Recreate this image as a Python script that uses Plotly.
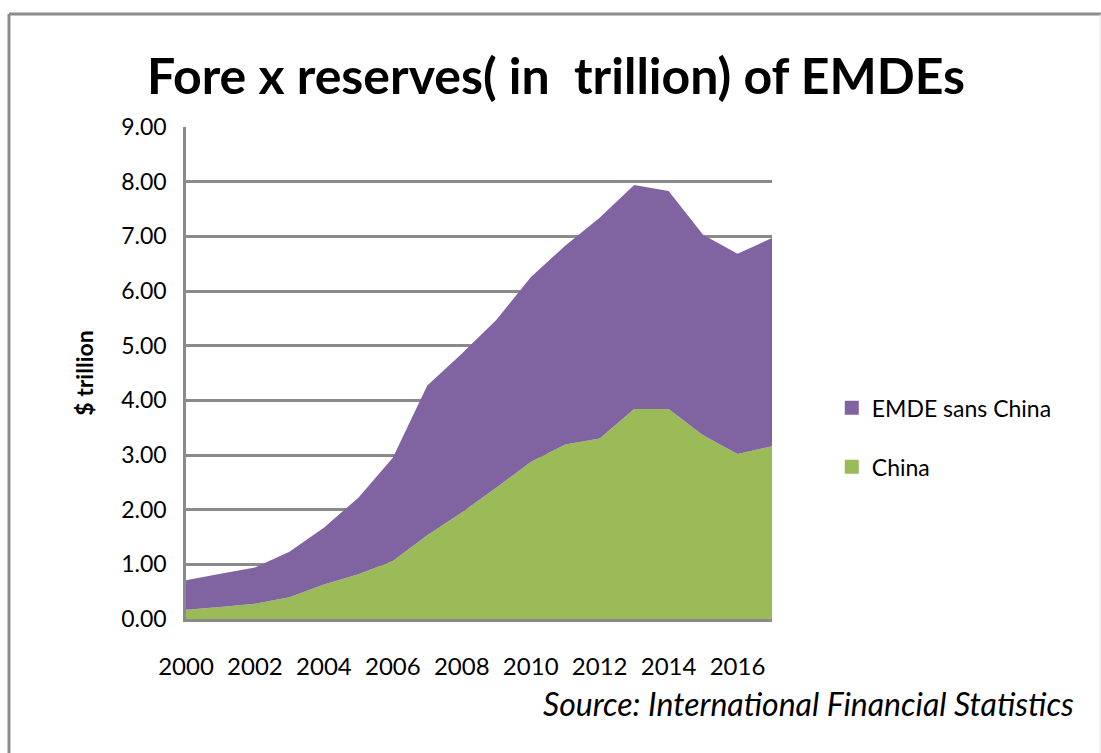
import plotly.graph_objects as go

# Foreign exchange reserves, $ trillion
years = list(range(2000, 2018))
china = [0.17, 0.22, 0.28, 0.40, 0.63, 0.82, 1.06, 1.53, 1.95, 2.40, 2.87,
         3.19, 3.30, 3.84, 3.84, 3.36, 3.02, 3.16]
emde_total = [0.71, 0.83, 0.94, 1.23, 1.67, 2.22, 2.95, 4.27, 4.85, 5.47, 6.25,
              6.83, 7.34, 7.94, 7.83, 7.03, 6.68, 6.97]
emde_sans_china = [round(t - c, 2) for t, c in zip(emde_total, china)]

x_ticks = list(range(2000, 2017, 2))
y_ticks = list(range(0, 10))

PURPLE = "#8064A2"
GREEN = "#9BBB59"
GRID = "#8a8a8a"
FONT = "Lato"

fig = go.Figure()

# stacked areas (China at the bottom)
fig.add_trace(go.Scatter(x=years, y=china, stackgroup="one", mode="none",
                         fillcolor=GREEN, name="China", showlegend=False,
                         line=dict(width=0)))
fig.add_trace(go.Scatter(x=years, y=emde_sans_china, stackgroup="one", mode="none",
                         fillcolor=PURPLE, name="EMDE sans China", showlegend=False,
                         line=dict(width=0)))

# square legend markers
fig.add_trace(go.Scatter(x=[None], y=[None], mode="markers", name="EMDE sans China",
                         marker=dict(symbol="square", size=14, color=PURPLE),
                         legendgroup="a"))
fig.add_trace(go.Scatter(x=[None], y=[None], mode="markers", name="China",
                         marker=dict(symbol="square", size=14, color=GREEN),
                         legendgroup="b"))

# frame: top and left edges of the chart box, faint right edge
frame_left = (9 - 186) / 586
frame_right = (1100 - 186) / 586
frame_top = (619 - 14) / 492
frame_bottom = (619 - 753) / 492
frame = dict(color="#8c8c8c", width=3)

fig.update_layout(
    width=1101, height=753, autosize=False,
    margin=dict(l=186, r=329, t=127, b=134),
    paper_bgcolor="white", plot_bgcolor="white",
    font=dict(family=FONT, color="black"),
    title=dict(text="<b>Fore x reserves( in  trillion) of EMDEs</b>",
               font=dict(family=FONT, size=50, color="black"),
               x=556 / 1101, xanchor="center", xref="container",
               y=1 - 76 / 753, yanchor="middle", yref="container"),
    legend=dict(x=1.102, y=0.473, xanchor="left", yanchor="top",
                font=dict(family=FONT, size=23, color="black"),
                traceorder="grouped", tracegroupgap=26,
                bgcolor="rgba(0,0,0,0)"),
    xaxis=dict(range=[2000, 2017], tickvals=x_ticks,
               ticktext=[str(v) for v in x_ticks],
               showgrid=False, showline=True, linecolor=GRID, linewidth=2.5,
               ticks="", ticklabelstandoff=24, zeroline=False,
               tickfont=dict(family=FONT, size=24, color="black")),
    yaxis=dict(range=[0, 9], tickvals=y_ticks, tickformat=".2f",
               showgrid=True, gridcolor=GRID, gridwidth=2.5,
               showline=True, linecolor=GRID, linewidth=2.5,
               ticks="", ticklabelstandoff=12, zeroline=False,
               tickfont=dict(family=FONT, size=23, color="black"),
               title=dict(text="<b>$ trillion</b>", standoff=22,
                          font=dict(family=FONT, size=23, color="black"))),
    annotations=[dict(text="<i>Source: International Financial Statistics</i>",
                      xref="paper", yref="paper",
                      x=(1076 - 186) / 586, y=(619 - 703) / 492,
                      xanchor="right", yanchor="middle", showarrow=False,
                      font=dict(family=FONT, size=32, color="black"))],
    shapes=[
        dict(type="line", xref="paper", yref="paper",
             x0=frame_left, x1=frame_right + 0.01, y0=frame_top, y1=frame_top,
             line=frame, layer="below"),
        dict(type="line", xref="paper", yref="paper",
             x0=frame_left, x1=frame_left, y0=frame_bottom, y1=frame_top,
             line=frame, layer="below"),
        dict(type="line", xref="paper", yref="paper",
             x0=frame_right, x1=frame_right, y0=frame_bottom, y1=frame_top,
             line=dict(color="#e4e4e4", width=1), layer="below"),
    ],
)

fig.write_html("out.html")
